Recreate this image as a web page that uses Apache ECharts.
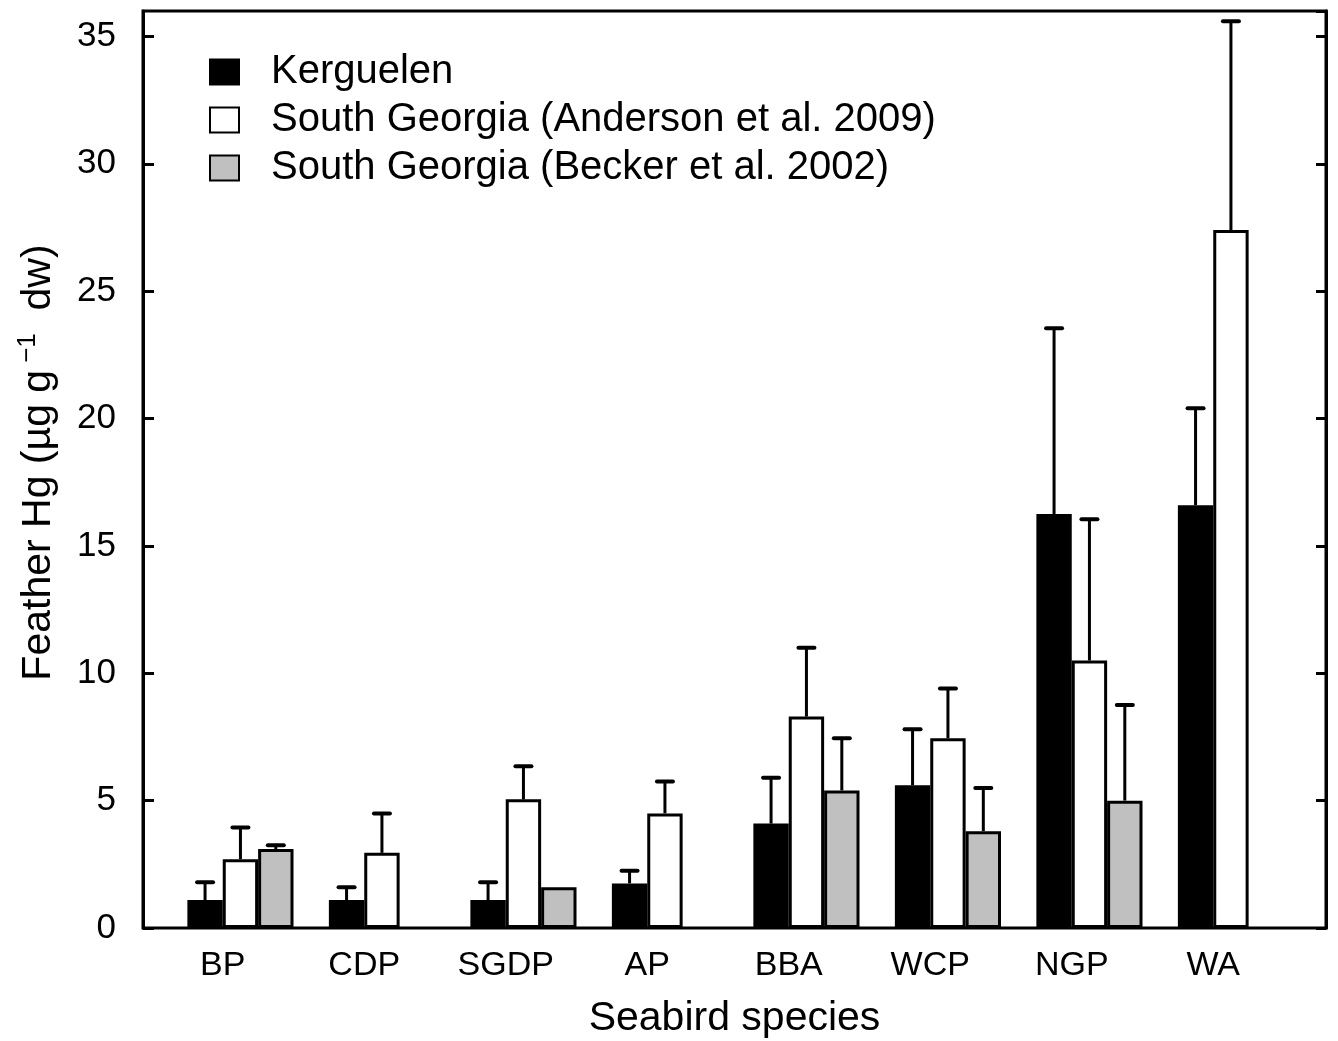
<!DOCTYPE html>
<html>
<head>
<meta charset="utf-8">
<script src="https://cdn.jsdelivr.net/npm/echarts@6/dist/echarts.min.js"></script>
<style>
html,body{margin:0;padding:0;background:#fff;}
#chart{width:1338px;height:1041px;}
</style>
</head>
<body>
<div id="chart"></div>
<script>
// ---- data ----
const categories = ['BP', 'CDP', 'SGDP', 'AP', 'BBA', 'WCP', 'NGP', 'WA'];
const seriesNames = ['Kerguelen', 'South Georgia (Anderson et al. 2009)', 'South Georgia (Becker et al. 2002)'];
const kerguelen        = [1.1, 1.1, 1.1, 1.75, 4.1, 5.6, 16.25, 16.6];
const kerguelenUpper   = [1.8, 1.6, 1.8, 2.25, 5.9, 7.8, 23.55, 20.4];
const anderson         = [2.7, 2.95, 5.05, 4.5, 8.3, 7.45, 10.5, 27.4];
const andersonUpper    = [3.95, 4.5, 6.35, 5.75, 11.0, 9.4, 16.05, 35.6];
const becker           = [3.1, null, 1.6, null, 5.4, 3.8, 5.0, null];
const beckerUpper      = [3.25, null, null, null, 7.45, 5.5, 8.75, null];
const yTicks = { min: 0, max: 36, interval: 5 };

const FONT = "'Liberation Sans', Arial, Helvetica, sans-serif";
const chart = echarts.init(document.getElementById('chart'));

function errData(vals, uppers) {
  const out = [];
  vals.forEach((v, i) => {
    if (v != null && uppers[i] != null) out.push([i, v, uppers[i]]);
  });
  return out;
}
function errSeries(vals, uppers, frac) {
  return {
    type: 'custom',
    xAxisIndex: 1, yAxisIndex: 2,
    silent: true,
    z: 5,
    data: errData(vals, uppers),
    renderItem: function (params, api) {
      const i = api.value(0);
      const base = api.coord([i, api.value(1)]);
      const top = api.coord([i, api.value(2)]);
      const bw = api.size([1, 0])[0];
      const x = base[0] + bw * frac;
      return {
        type: 'group',
        children: [
          { type: 'line', shape: { x1: x, y1: base[1], x2: x, y2: top[1] },
            style: { stroke: '#000', lineWidth: 3 } },
          { type: 'line', shape: { x1: x - 8, y1: top[1], x2: x + 8, y2: top[1] },
            style: { stroke: '#000', lineWidth: 4, lineCap: 'round' } }
        ]
      };
    }
  };
}

const option = {
  animation: false,
  backgroundColor: '#fff',
  textStyle: { fontFamily: FONT },
  grid: [
    { left: 143, right: 12, top: 11, bottom: 113, show: true, borderColor: '#000', borderWidth: 3,
      backgroundColor: 'transparent', containLabel: false, outerBoundsMode: 'none' },
    { left: 152, right: 54, top: 11, bottom: 113, show: false, containLabel: false, outerBoundsMode: 'none' }
  ],
  legend: {
    orient: 'vertical',
    left: 204, top: 47,
    icon: 'rect',
    itemWidth: 29, itemHeight: 25,
    itemGap: 8,
    data: seriesNames,
    textStyle: { fontSize: 40, lineHeight: 40, color: '#000', fontFamily: FONT, padding: [0, 0, 0, 27] },
    selectedMode: false
  },
  xAxis: [
    { type: 'category', gridIndex: 0, data: categories,
      axisLine: { show: false }, axisTick: { show: false }, axisLabel: { show: false },
      splitLine: { show: false },
      name: 'Seabird species', nameLocation: 'middle', nameGap: 70, nameMoveOverlap: false,
      nameTextStyle: { fontSize: 41, color: '#000', fontFamily: FONT } },
    { type: 'category', gridIndex: 1, data: categories,
      axisLine: { show: false }, axisTick: { show: false }, splitLine: { show: false },
      axisLabel: { fontSize: 34, color: '#000', margin: 21, fontFamily: FONT } }
  ],
  yAxis: [
    { type: 'value', gridIndex: 0, position: 'left', min: yTicks.min, max: yTicks.max, interval: yTicks.interval,
      axisLine: { show: true, lineStyle: { color: '#000', width: 3 } },
      axisTick: { show: true, inside: true, length: 11, lineStyle: { color: '#000', width: 3 } },
      axisLabel: { fontSize: 35, color: '#000', margin: 27, showMaxLabel: false, fontFamily: FONT },
      splitLine: { show: false },
      name: 'Feather Hg (µg g{sup|−1}  dw)', nameLocation: 'middle', nameGap: 80, nameRotate: 90,
      nameMoveOverlap: false,
      nameTextStyle: { fontSize: 41, color: '#000', fontFamily: FONT, padding: [0, 0, 0, 14],
        rich: { sup: { fontSize: 26, color: '#000', fontFamily: FONT, verticalAlign: 'top', padding: [0, 0, 22, 7] } } } },
    { type: 'value', gridIndex: 0, position: 'right', min: yTicks.min, max: yTicks.max, interval: yTicks.interval,
      axisLine: { show: true, lineStyle: { color: '#000', width: 3 } },
      axisTick: { show: true, inside: true, length: 10, lineStyle: { color: '#000', width: 3 } },
      axisLabel: { show: false }, splitLine: { show: false } },
    { type: 'value', gridIndex: 1, min: yTicks.min, max: yTicks.max, interval: yTicks.interval, show: false,
      splitLine: { show: false } }
  ],
  series: [
    { name: '_pad', type: 'bar', xAxisIndex: 1, yAxisIndex: 2, data: categories.map(() => null),
      barGap: '0%', barCategoryGap: '0%', silent: true },
    { name: seriesNames[0], type: 'bar', xAxisIndex: 1, yAxisIndex: 2, data: kerguelen,
      barGap: '0%', barCategoryGap: '0%',
      itemStyle: { color: '#000', borderColor: '#000', borderWidth: 3 } },
    { name: seriesNames[1], type: 'bar', xAxisIndex: 1, yAxisIndex: 2, data: anderson,
      barGap: '0%', barCategoryGap: '0%',
      itemStyle: { color: '#fff', borderColor: '#000', borderWidth: 3 } },
    { name: seriesNames[2], type: 'bar', xAxisIndex: 1, yAxisIndex: 2, data: becker,
      barGap: '0%', barCategoryGap: '0%',
      itemStyle: { color: '#c0c0c0', borderColor: '#000', borderWidth: 3 } },
    errSeries(kerguelen, kerguelenUpper, -1 / 8),
    errSeries(anderson, andersonUpper, 1 / 8),
    errSeries(becker, beckerUpper, 3 / 8)
  ]
};
chart.setOption(option);
</script>
</body>
</html>
